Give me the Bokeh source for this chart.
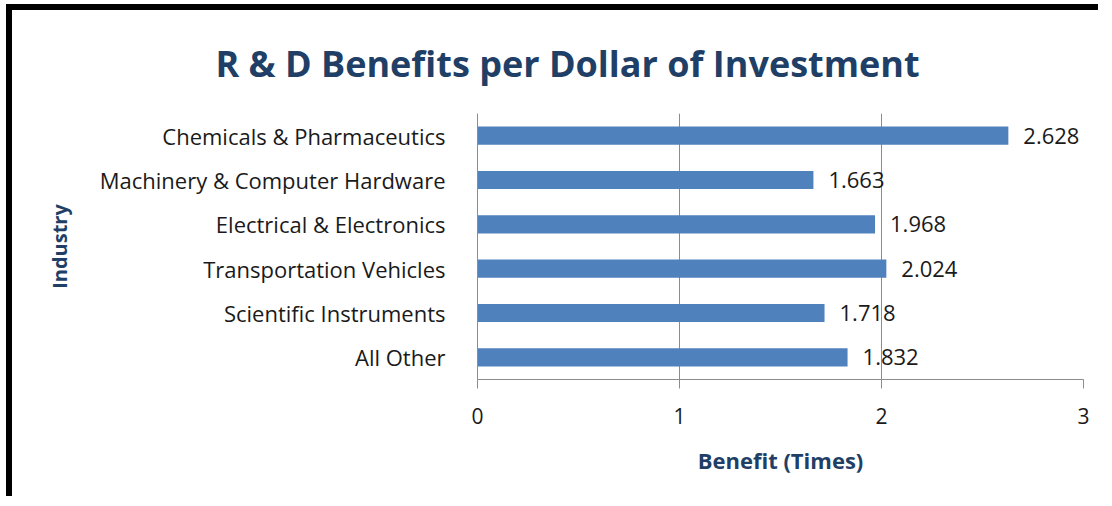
from bokeh.plotting import figure
from bokeh.layouts import column
from bokeh.models import FactorRange, Range1d, FixedTicker, ColumnDataSource
from bokeh.core.properties import value
from bokeh.embed import file_html
from bokeh.resources import INLINE

title_text = "R & D Benefits per Dollar of Investment"
categories = ["Chemicals & Pharmaceutics", "Machinery & Computer Hardware",
              "Electrical & Electronics", "Transportation Vehicles",
              "Scientific Instruments", "All Other"]
benefits = [2.628, 1.663, 1.968, 2.024, 1.718, 1.832]
value_labels = ["2.628", "1.663", "1.968", "2.024", "1.718", "1.832"]
x_ticks = [0, 1, 2, 3]

FONT = "Open Sans"
NAVY = "#1F3F66"
BAR = "#4F81BD"
GRID = "#8C8C8C"
TXT = "#1A1A1A"

src = ColumnDataSource(dict(cat=categories, val=benefits, lab=value_labels))

p = figure(width=1092, height=492, output_backend="svg", toolbar_location=None,
           y_range=FactorRange(factors=list(reversed(categories)), range_padding=0),
           x_range=Range1d(0, 3),
           min_border_left=465, min_border_right=21, min_border_top=103, min_border_bottom=123)
p.styles = {"border-left": "6px solid black", "border-top": "6px solid black"}

p.title.text = title_text
p.title.text_font = FONT
p.title.text_font_size = "36px"
p.title.text_font_style = "bold"
p.title.text_color = NAVY
p.title.align = "left"
p.title.offset = -262
p.title.standoff = 52

p.hbar(y="cat", right="val", left=0, height=0.41, source=src, color=BAR, line_color=None)
p.text(x="val", y="cat", text="lab", source=src, x_offset=15, text_baseline="middle",
       text_align="left", text_font=value(FONT), text_font_size="22px", text_color=TXT)

p.outline_line_color = None
p.background_fill_color = "white"
p.border_fill_color = "white"

p.xgrid.ticker = FixedTicker(ticks=x_ticks)
p.xgrid.grid_line_color = GRID
p.ygrid.grid_line_color = None

xa = p.xaxis[0]
xa.ticker = FixedTicker(ticks=x_ticks)
xa.axis_line_color = GRID
xa.major_tick_line_color = GRID
xa.major_tick_out = 9
xa.major_tick_in = 0
xa.minor_tick_line_color = None
xa.major_label_text_font = FONT
xa.major_label_text_font_size = "21px"
xa.major_label_text_color = TXT
xa.major_label_standoff = 19
xa.axis_label = "Benefit (Times)"
xa.axis_label_text_font = FONT
xa.axis_label_text_font_size = "22px"
xa.axis_label_text_font_style = "bold"
xa.axis_label_text_color = NAVY
xa.axis_label_standoff = 18

ya = p.yaxis[0]
ya.axis_line_color = GRID
ya.major_tick_line_color = None
ya.minor_tick_line_color = None
ya.major_label_text_font = FONT
ya.major_label_text_font_size = "22px"
ya.major_label_text_color = TXT
ya.major_label_standoff = 26
ya.axis_label = "Industry"
ya.axis_label_text_font = FONT
ya.axis_label_text_font_size = "20px"
ya.axis_label_text_font_style = "bold"
ya.axis_label_text_color = NAVY
ya.axis_label_standoff = 24

layout = column(p, styles={"padding-left": "6px", "padding-top": "4px",
                           "background-color": "white"})

open("out.html", "w").write(file_html(layout, INLINE))
